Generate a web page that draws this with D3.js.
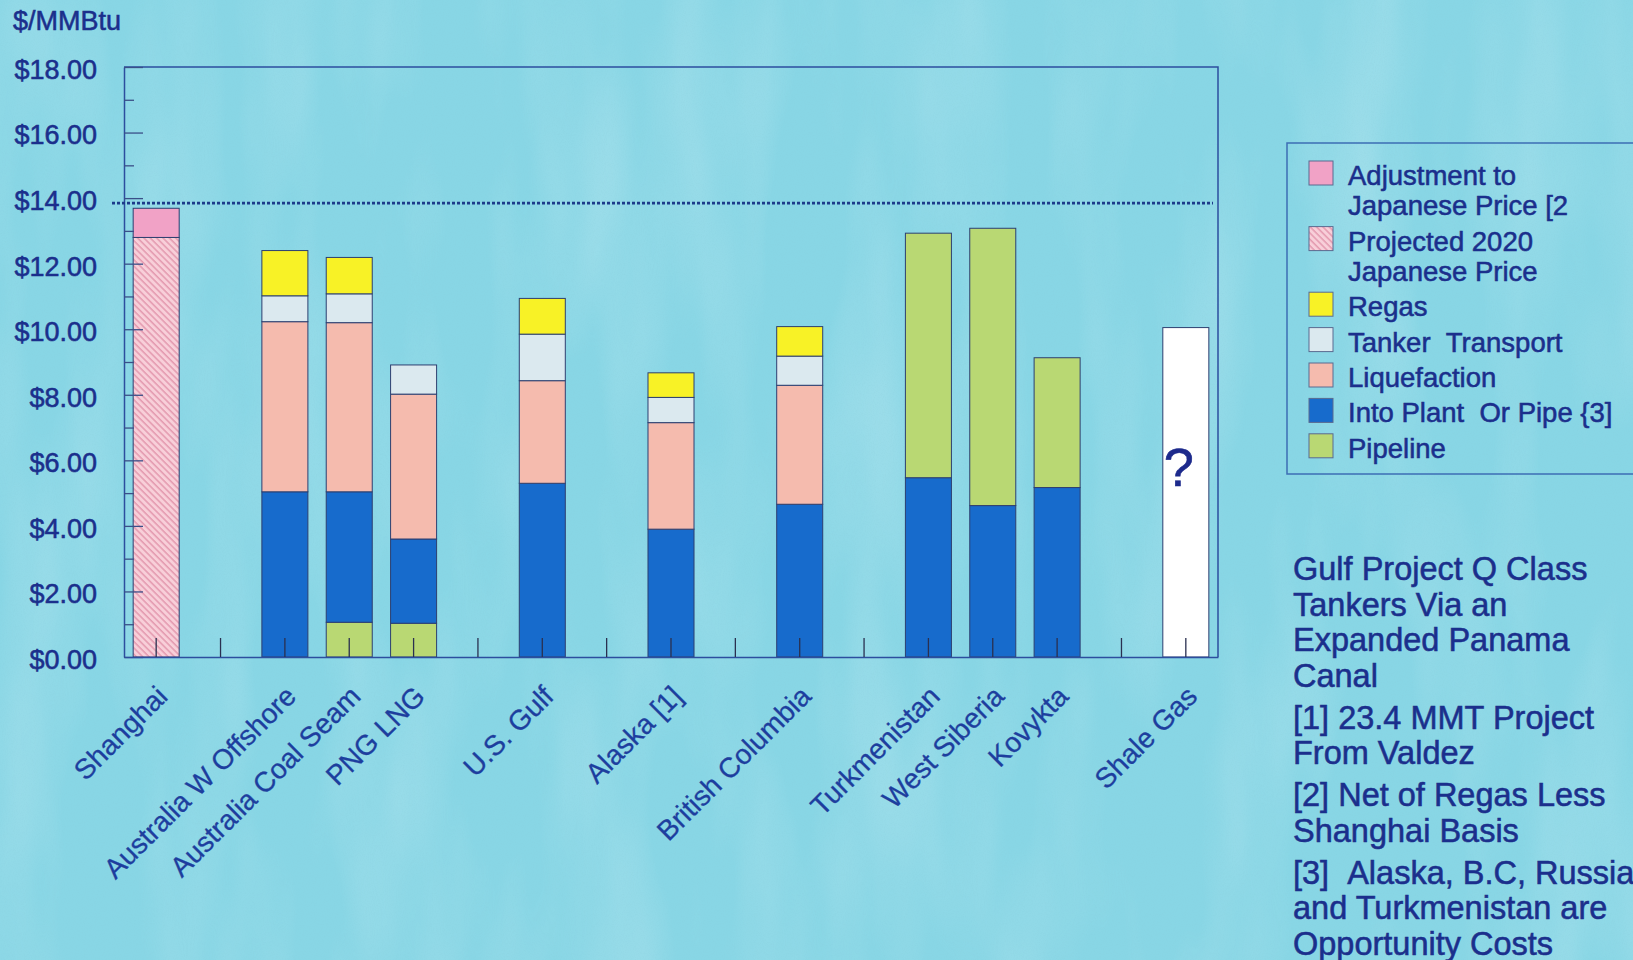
<!DOCTYPE html>
<html>
<head>
<meta charset="utf-8">
<script src="https://cdn.jsdelivr.net/npm/d3@7"></script>
<style>
  html, body { margin: 0; padding: 0; background: #88d6e5; }
  svg { display: block; }
  text { font-family: "Liberation Sans", Arial, sans-serif; fill: #1b2f8c; stroke: #1b2f8c; stroke-width: 0.55px; }
</style>
</head>
<body>
<svg id="chart" width="1633" height="960"></svg>
<script>
// ---- data ($/MMBtu delivered cost build-up by supply source) ----
const categories = ["Shanghai", "", "Australia W Offshore", "Australia Coal Seam", "PNG LNG", "",
  "U.S. Gulf", "", "Alaska [1]", "", "British Columbia", "", "Turkmenistan", "West Siberia",
  "Kovykta", "", "Shale Gas"];

const feedPipeline  = [0, 0, 0, 1.06, 1.03, 0, 0, 0, 0, 0, 0, 0, 0, 0, 0, 0, 0];
const intoPlant     = [0, 0, 5.04, 3.98, 2.57, 0, 5.30, 0, 3.90, 0, 4.66, 0, 5.47, 4.62, 5.17, 0, 0];
const liquefaction  = [0, 0, 5.19, 5.16, 4.42, 0, 3.13, 0, 3.25, 0, 3.63, 0, 0, 0, 0, 0, 0];
const tanker        = [0, 0, 0.79, 0.88, 0.89, 0, 1.42, 0, 0.77, 0, 0.89, 0, 0, 0, 0, 0, 0];
const regas         = [0, 0, 1.38, 1.11, 0, 0, 1.09, 0, 0.75, 0, 0.90, 0, 0, 0, 0, 0, 0];
const pipeline      = [0, 0, 0, 0, 0, 0, 0, 0, 0, 0, 0, 0, 7.46, 8.46, 3.96, 0, 0];
const projected2020 = [12.80, 0, 0, 0, 0, 0, 0, 0, 0, 0, 0, 0, 0, 0, 0, 0, 0];
const adjustment    = [0.89, 0, 0, 0, 0, 0, 0, 0, 0, 0, 0, 0, 0, 0, 0, 0, 0];
const shaleGas      = [0, 0, 0, 0, 0, 0, 0, 0, 0, 0, 0, 0, 0, 0, 0, 0, 10.05];
const shaleGasMark  = "?";

const japanesePrice = 13.85;

const yMajorTicks = [0, 2, 4, 6, 8, 10, 12, 14, 16, 18];
const yMinorTicks = [1, 3, 5, 7, 9, 11, 13, 15, 17];
const yUnit = "$/MMBtu";

const legendEntries = [
  ["Adjustment to", "Japanese Price [2"],
  ["Projected 2020", "Japanese Price"],
  ["Regas"],
  ["Tanker\u00a0\u00a0Transport"],
  ["Liquefaction"],
  ["Into Plant\u00a0\u00a0Or Pipe {3]"],
  ["Pipeline"]
];

const notes = [
  ["Gulf Project Q Class", "Tankers Via an", "Expanded Panama", "Canal"],
  ["[1] 23.4 MMT Project", "From Valdez"],
  ["[2] Net of Regas Less", "Shanghai Basis"],
  ["[3]\u00a0\u00a0Alaska, B.C, Russia", "and Turkmenistan are", "Opportunity Costs"]
];

// ---- series styling (bottom to top of each stack) ----
const series = [
  { key: "feedPipeline",  values: feedPipeline,  fill: "#b9d873" },
  { key: "intoPlant",     values: intoPlant,     fill: "#176bcc" },
  { key: "liquefaction",  values: liquefaction,  fill: "#f5bbae" },
  { key: "tanker",        values: tanker,        fill: "#dbe9ef" },
  { key: "regas",         values: regas,         fill: "#f8f226" },
  { key: "pipeline",      values: pipeline,      fill: "#b9d873" },
  { key: "projected2020", values: projected2020, fill: "url(#hatch)" },
  { key: "adjustment",    values: adjustment,    fill: "#f1a2c6" },
  { key: "shaleGas",      values: shaleGas,      fill: "#ffffff" }
];
const legendFills = ["#f1a2c6", "url(#hatch)", "#f8f226", "#dbe9ef", "#f5bbae", "#176bcc", "#b9d873"];

// ---- layout ----
const W = 1633, H = 960;
const plot = { left: 124, right: 1218, top: 67, bottom: 657 };
const svg = d3.select("#chart");
const defs = svg.append("defs");

// hatched fill for the projected price
const hatch = defs.append("pattern")
  .attr("id", "hatch").attr("patternUnits", "userSpaceOnUse")
  .attr("width", 4.5).attr("height", 4.5)
  .attr("patternTransform", "rotate(-45)");
hatch.append("rect").attr("width", 4.5).attr("height", 4.5).attr("fill", "#f8cfd9");
hatch.append("line").attr("x1", 1).attr("y1", 0).attr("x2", 1).attr("y2", 4.5)
  .attr("stroke", "#e090a8").attr("stroke-width", 1.3);

// paper texture for the slide background: soft mottling plus fine grain
const tex = defs.append("filter").attr("id", "texture")
  .attr("x", 0).attr("y", 0).attr("width", 1).attr("height", 1);
tex.append("feTurbulence").attr("type", "fractalNoise")
  .attr("baseFrequency", "0.012 0.003").attr("numOctaves", 3).attr("seed", 7);
tex.append("feColorMatrix").attr("type", "matrix")
  .attr("values", "0 0 0 0 1  0 0 0 0 1  0 0 0 0 1  1.4 0 0 0 -0.58");
const grain = defs.append("filter").attr("id", "grain")
  .attr("x", 0).attr("y", 0).attr("width", 1).attr("height", 1);
grain.append("feTurbulence").attr("type", "fractalNoise")
  .attr("baseFrequency", "0.9").attr("numOctaves", 1).attr("seed", 3);
grain.append("feColorMatrix").attr("type", "matrix")
  .attr("values", "0 0 0 0 0.25  0 0 0 0 0.6  0 0 0 0 0.7  1.4 0 0 0 -0.62");

svg.append("rect").attr("width", W).attr("height", H).attr("fill", "#88d6e5");
svg.append("rect").attr("width", W).attr("height", H).attr("filter", "url(#texture)").attr("opacity", 0.25);
svg.append("rect").attr("width", W).attr("height", H).attr("filter", "url(#grain)").attr("opacity", 0.3);

// ---- scales ----
const x = d3.scaleBand()
  .domain(d3.range(categories.length))
  .range([plot.left, plot.right])
  .paddingInner(0.285)
  .paddingOuter(0.1425);

const y = d3.scaleLinear().domain([0, 18]).range([plot.bottom, plot.top]);

// ---- stacked bars ----
const rows = categories.map((c, i) => {
  const r = { index: i };
  series.forEach(s => { r[s.key] = s.values[i]; });
  return r;
});
const stacked = d3.stack().keys(series.map(s => s.key))(rows);

const barsG = svg.append("g");
stacked.forEach((layer, li) => {
  barsG.append("g")
    .selectAll("rect")
    .data(layer.filter(d => d[1] - d[0] > 0))
    .join("rect")
    .attr("x", d => x(d.data.index))
    .attr("width", x.bandwidth())
    .attr("y", d => y(d[1]))
    .attr("height", d => y(d[0]) - y(d[1]))
    .attr("fill", series[li].fill)
    .attr("stroke", "#2d3f70")
    .attr("stroke-width", 1);
});

// question mark on the shale gas bar
const shaleIdx = shaleGas.findIndex(v => v > 0);
svg.append("text")
  .attr("x", x(shaleIdx) + x.bandwidth() / 2 - 7)
  .attr("y", y(shaleGas[shaleIdx] * 0.52))
  .attr("text-anchor", "middle")
  .attr("font-size", 54)
  .style("fill", "#1d2a8c").style("stroke", "#1d2a8c").style("stroke-width", "0.6px")
  .text(shaleGasMark);

// ---- frame ----
const frameColor = "#2c4e9e";
svg.append("path")
  .attr("d", `M${plot.left},${plot.top}H${plot.right}V${plot.bottom}`)
  .attr("fill", "none").attr("stroke", frameColor).attr("stroke-width", 1.5);

// ---- y axis ----
const yAxis = svg.append("g")
  .attr("transform", `translate(${plot.left},0)`)
  .call(d3.axisLeft(y).tickValues(yMajorTicks).tickSizeInner(-19).tickSizeOuter(0)
    .tickPadding(27).tickFormat(d => "$" + d3.format(".2f")(d)));
yAxis.select(".domain").attr("stroke", frameColor).attr("stroke-width", 1.5);
yAxis.selectAll(".tick line").attr("stroke", "#3a4f88").attr("stroke-width", 1.3);
yAxis.selectAll(".tick text").attr("font-size", 27).attr("dy", "0.42em")
  .style("font-family", "'Liberation Sans', Arial, sans-serif");

const yMinor = svg.append("g")
  .attr("transform", `translate(${plot.left},0)`)
  .call(d3.axisLeft(y).tickValues(yMinorTicks).tickSizeInner(-10).tickSizeOuter(0).tickFormat(""));
yMinor.select(".domain").remove();
yMinor.selectAll(".tick line").attr("stroke", "#3a4f88").attr("stroke-width", 1.3);

svg.append("text")
  .attr("x", 13).attr("y", 30)
  .attr("font-size", 27)
  .text(yUnit);

// ---- x axis ----
const xAxis = svg.append("g")
  .attr("transform", `translate(0,${plot.bottom})`)
  .call(d3.axisBottom(x).tickSizeInner(-19).tickSizeOuter(0).tickFormat(i => categories[i]));
xAxis.select(".domain").attr("stroke", frameColor).attr("stroke-width", 1.5);
xAxis.selectAll(".tick line").attr("stroke", "#2a3050").attr("stroke-width", 1.3);
xAxis.selectAll(".tick text")
  .attr("font-size", 28)
  .attr("text-anchor", "end")
  .attr("y", 0).attr("dy", 0)
  .attr("transform", "translate(13,41) rotate(-45)")
  .style("font-family", "'Liberation Sans', Arial, sans-serif")
  .style("fill", "#1d3e9e").style("stroke", "#1d3e9e").style("stroke-width", "0.3px");

// ---- reference price line ----
svg.append("line")
  .attr("x1", 112).attr("x2", 1213)
  .attr("y1", y(japanesePrice)).attr("y2", y(japanesePrice))
  .attr("stroke", "#1c3a8a").attr("stroke-width", 2.8)
  .attr("stroke-dasharray", "3,2");

// ---- legend ----
const legend = svg.append("g");
legend.append("rect")
  .attr("x", 1287).attr("y", 143).attr("width", 400).attr("height", 331)
  .attr("fill", "none").attr("stroke", "#3d6db4").attr("stroke-width", 1.5);
let base = 185;
legendEntries.forEach((lines, i) => {
  legend.append("rect")
    .attr("x", 1309).attr("y", base - 24).attr("width", 24).attr("height", 24)
    .attr("fill", legendFills[i]).attr("stroke", "#5a6a90").attr("stroke-width", 1);
  lines.forEach((t, j) => {
    legend.append("text")
      .attr("x", 1348).attr("y", base + j * 30.2)
      .attr("font-size", 27.5)
      .text(t);
  });
  base += (lines.length - 1) * 30.2 + 35.4;
});

// ---- notes ----
const notesG = svg.append("g");
let nb = 580;
notes.forEach(par => {
  par.forEach((t, j) => {
    notesG.append("text")
      .attr("x", 1293).attr("y", nb + j * 35.5)
      .attr("font-size", 32.5)
      .text(t);
  });
  nb += par.length * 35.5 + 6.5;
});
</script>
</body>
</html>
